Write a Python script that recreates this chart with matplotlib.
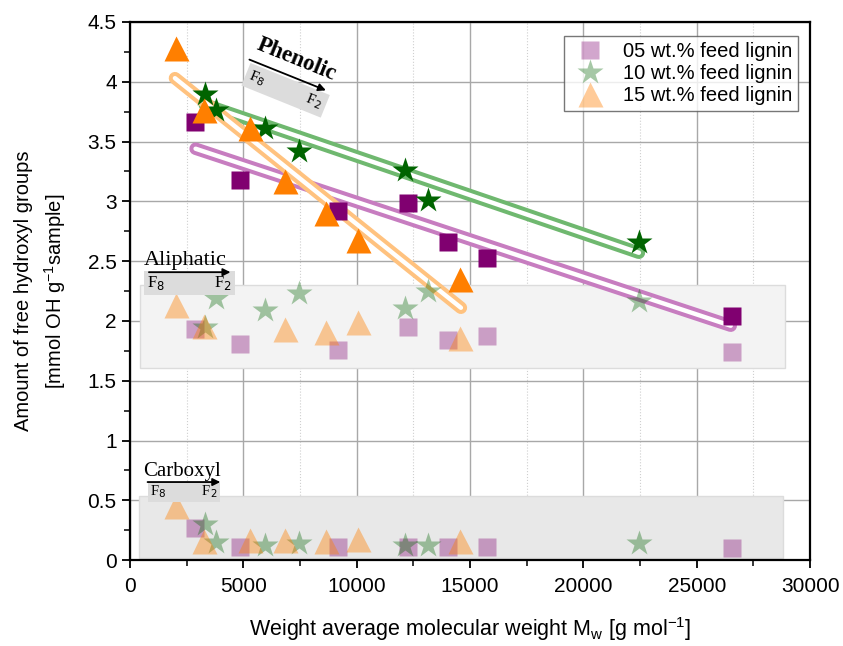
import matplotlib
matplotlib.use("Agg")
import matplotlib.pyplot as plt
import numpy as np
from matplotlib.patches import Rectangle

plt.rcParams['font.family'] = ['Liberation Sans', 'DejaVu Sans']

# Mw of the fractions (g/mol), one list per feed lignin content
mw_05 = [2870, 4850, 9180, 12250, 14020, 15730, 26550]
mw_10 = [3300, 3800, 5960, 7460, 12120, 13130, 22440]
mw_15 = [2030, 3250, 5300, 6850, 8670, 10080, 14580]

# phenolic OH (mmol/g)
phen_05 = [3.66, 3.18, 2.92, 2.99, 2.66, 2.53, 2.04]
phen_10 = [3.90, 3.76, 3.61, 3.42, 3.26, 3.01, 2.66]
phen_15 = [4.28, 3.76, 3.61, 3.17, 2.90, 2.68, 2.35]

# aliphatic OH
ali_05 = [1.93, 1.81, 1.76, 1.95, 1.84, 1.87, 1.74]
ali_10 = [1.95, 2.19, 2.09, 2.23, 2.11, 2.25, 2.17]
ali_15 = [2.13, 1.96, np.nan, 1.93, 1.91, 1.99, 1.86]

# carboxyl OH
carb_05 = [0.27, 0.11, 0.11, 0.11, 0.11, 0.11, 0.10]
carb_10 = [0.30, 0.15, 0.13, 0.14, 0.13, 0.13, 0.14]
carb_15 = [0.45, 0.16, 0.17, 0.17, 0.16, 0.18, 0.16]

# linear trends of phenolic OH (start/end)
fit_05_x = [2900, 26500]
fit_05_y = [3.44, 1.96]
fit_10_x = [3300, 22450]
fit_10_y = [3.81, 2.57]
fit_15_x = [1990, 14600]
fit_15_y = [4.03, 2.11]

labels = ['05 wt.% feed lignin', '10 wt.% feed lignin', '15 wt.% feed lignin']

c_purple = '#800070'
c_green = '#006400'
c_orange = '#ff7f00'

fig = plt.figure(figsize=(8.43, 6.46), dpi=100)
ax = fig.add_axes([0.154, 0.133, 0.807, 0.833])

# grey bands behind aliphatic / carboxyl groups
ax.add_patch(Rectangle((440, 1.61), 28460, 0.69, facecolor='#f3f3f3',
                       edgecolor='#dcdcdc', lw=1, zorder=1))
ax.add_patch(Rectangle((400, 0.015), 28400, 0.525, facecolor='#e8e8e8',
                       edgecolor='#dcdcdc', lw=1, zorder=1))

# trend lines, drawn as a hollow double line
for fx, fy, col in [(fit_05_x, fit_05_y, '#c77dc0'),
                    (fit_10_x, fit_10_y, '#6fb86f'),
                    (fit_15_x, fit_15_y, '#ffc27f')]:
    ax.plot(fx, fy, color=col, lw=9, solid_capstyle='round', zorder=2)
    ax.plot(fx, fy, color='white', lw=3.2, solid_capstyle='round', zorder=2)

# pale markers: aliphatic + carboxyl
for y05, y10, y15 in [(ali_05, ali_10, ali_15), (carb_05, carb_10, carb_15)]:
    ax.plot(mw_05, y05, 's', ms=13, color=c_purple, alpha=0.35, mec='none', zorder=3)
    ax.plot(mw_10, y10, '*', ms=19, color=c_green, alpha=0.35, mec='none', zorder=3)
    ax.plot(mw_15, y15, '^', ms=18, color=c_orange, alpha=0.4, mec='none', zorder=3)

# phenolic
ax.plot(mw_05, phen_05, 's', ms=13, color=c_purple, mec='none', zorder=4)
ax.plot(mw_10, phen_10, '*', ms=19, color=c_green, mec='none', zorder=4)
ax.plot(mw_15, phen_15, '^', ms=18, color=c_orange, mec='none', zorder=4)

# legend with pale markers
h1, = ax.plot([], [], 's', ms=13, color=c_purple, alpha=0.35, mec='none')
h2, = ax.plot([], [], '*', ms=19, color=c_green, alpha=0.35, mec='none')
h3, = ax.plot([], [], '^', ms=18, color=c_orange, alpha=0.4, mec='none')
leg = ax.legend([h1, h2, h3], labels, loc='upper right', fontsize=14.5,
                frameon=True, fancybox=False, edgecolor='#555555',
                handletextpad=0.6, borderpad=0.3, labelspacing=0.15,
                handlelength=2.0, bbox_to_anchor=(0.997, 0.992))
leg.get_frame().set_linewidth(1.0)

# group annotations
serif = ['Liberation Serif', 'DejaVu Serif']
ax.text(0.245, 0.93, 'Phenolic', transform=ax.transAxes, rotation=-22,
        fontsize=16.5, fontweight='bold', family=serif, ha='center', va='center',
        rotation_mode='anchor', zorder=6)
ax.text(0.229, 0.873, r'F$_8$            F$_2$', transform=ax.transAxes,
        rotation=-22, fontsize=11, family=serif, ha='center', va='center',
        rotation_mode='anchor', zorder=5,
        bbox=dict(boxstyle='square,pad=0.25', fc='#dcdcdc', ec='none'))
ax.annotate('', xy=(0.292, 0.871), xytext=(0.172, 0.932), xycoords='axes fraction',
            arrowprops=dict(arrowstyle='-|>', color='black', lw=1.3,
                            mutation_scale=11), zorder=6)

ax.text(0.081, 0.548, 'Aliphatic', transform=ax.transAxes, fontsize=16,
        family=serif, ha='center', va='baseline', zorder=6)
ax.text(0.076, 0.156, 'Carboxyl', transform=ax.transAxes, fontsize=15,
        family=serif, ha='center', va='baseline', zorder=6)
aly = 0.535
ax.annotate('', xy=(0.152, aly), xytext=(0.024, aly), xycoords='axes fraction',
            arrowprops=dict(arrowstyle='-|>', color='black', lw=1.3,
                            mutation_scale=11), zorder=6)
ax.text(0.088, 0.515, r'F$_8$            F$_2$', transform=ax.transAxes,
        fontsize=12, family=serif, ha='center', va='center', zorder=5,
        bbox=dict(boxstyle='square,pad=0.2', fc='#dcdcdc', ec='none'))
cay = 0.145
ax.annotate('', xy=(0.137, cay), xytext=(0.022, cay), xycoords='axes fraction',
            arrowprops=dict(arrowstyle='-|>', color='black', lw=1.3,
                            mutation_scale=11), zorder=6)
ax.text(0.080, 0.127, r'F$_8$          F$_2$', transform=ax.transAxes,
        fontsize=10.5, family=serif, ha='center', va='center', zorder=5,
        bbox=dict(boxstyle='square,pad=0.15', fc='#dcdcdc', ec='none'))

# axes
ax.set_xlim(0, 30000)
ax.set_ylim(0, 4.5)
ax.set_xticks(np.arange(0, 30001, 5000))
ax.set_xticks(np.arange(2500, 30000, 5000), minor=True)
ax.set_yticks(np.arange(0, 4.51, 0.5))
ax.set_yticks(np.arange(0.25, 4.5, 0.5), minor=True)
ax.set_yticklabels(['0', '0.5', '1', '1.5', '2', '2.5', '3', '3.5', '4', '4.5'])
ax.tick_params(which='major', direction='out', length=6, width=1.3, labelsize=15)
ax.tick_params(axis='x', which='major', pad=6)
ax.tick_params(which='minor', direction='out', length=4, width=1.1)
ax.grid(which='major', color='#a8a8a8', lw=1.0, zorder=0)
ax.grid(which='minor', axis='x', color='#cfcfcf', lw=0.8, ls=':', zorder=0)
ax.set_axisbelow(True)
for s in ax.spines.values():
    s.set_linewidth(1.6)

ax.set_xlabel(r'Weight average molecular weight M$_\mathregular{w}$ [g mol$^\mathregular{-1}$]',
              fontsize=15.5, labelpad=14)
ax.set_ylabel('Amount of free hydroxyl groups\n'
              r'[mmol OH g$^\mathregular{-1}$sample]', fontsize=14.5, labelpad=14,
              linespacing=1.45)

fig.savefig('out.png', dpi=100)
